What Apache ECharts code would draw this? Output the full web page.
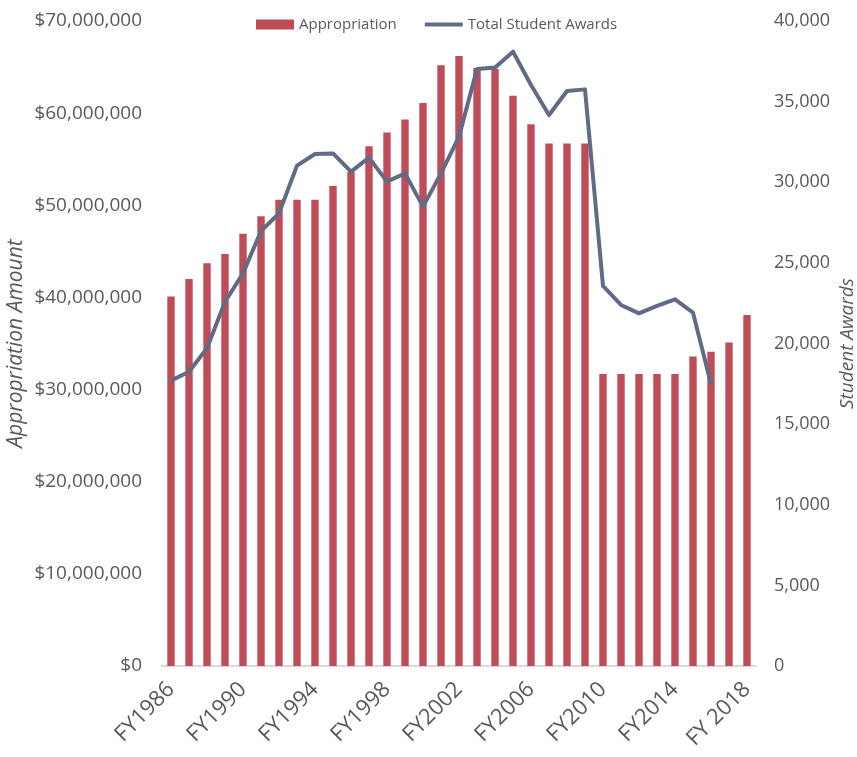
<!DOCTYPE html>
<html>
<head>
<meta charset="utf-8">
<script src="https://cdn.jsdelivr.net/npm/echarts@6/dist/echarts.min.js"></script>
<style>
  html, body { margin: 0; padding: 0; background: #fff; }
  #chart { width: 857px; height: 757px; }
</style>
</head>
<body>
<div id="chart"></div>
<script>
const years = [
  'FY1986', 'FY1987', 'FY1988', 'FY1989', 'FY1990', 'FY1991', 'FY1992', 'FY1993',
  'FY1994', 'FY1995', 'FY1996', 'FY1997', 'FY1998', 'FY1999', 'FY2000', 'FY2001',
  'FY2002', 'FY2003', 'FY2004', 'FY2005', 'FY2006', 'FY2007', 'FY2008', 'FY2009',
  'FY2010', 'FY2011', 'FY2012', 'FY2013', 'FY2014', 'FY2015', 'FY2016', 'FY2017',
  'FY 2018'
];
const appropriation = [
  40100000, 42000000, 43700000, 44700000, 46900000, 48800000, 50600000, 50600000,
  50600000, 52100000, 53600000, 56400000, 57900000, 59300000, 61100000, 65200000,
  66200000, 64900000, 64800000, 61900000, 58800000, 56700000, 56700000, 56700000,
  31700000, 31700000, 31700000, 31700000, 31700000, 33600000, 34100000, 35100000,
  38100000
];
const studentAwards = [
  17700, 18250, 19700, 22590, 24350, 26980, 28070, 31030,
  31750, 31790, 30660, 31530, 30040, 30550, 28490, 30550,
  32830, 37020, 37120, 38100, 36030, 34170, 35660, 35760,
  23570, 22390, 21870, 22330, 22740, 21910, 17490, null,
  null
];

const textColor = '#595959';
const barColor = '#be4d58';
const lineColor = '#616b86';
const fontFamily = '"Open Sans", sans-serif';

const chart = echarts.init(document.getElementById('chart'));
chart.setOption({
  animation: false,
  textStyle: { fontFamily: fontFamily, color: textColor },
  legend: {
    top: 12,
    left: 251,
    itemGap: 26,
    itemWidth: 38,
    itemHeight: 10,
    textStyle: { fontSize: 15, color: textColor, fontFamily: fontFamily },
    data: [
      { name: 'Appropriation', icon: 'rect' },
      {
        name: 'Total Student Awards',
        itemStyle: { opacity: 0 },
        lineStyle: { width: 4, color: lineColor }
      }
    ]
  },
  grid: {
    left: 162, right: 101, top: 21, bottom: 91,
    containLabel: false,
    outerBoundsMode: 'none'
  },
  xAxis: {
    type: 'category',
    data: years,
    axisLine: { lineStyle: { color: '#d9d9d9', width: 2 } },
    axisTick: { interval: 0, length: 7, lineStyle: { color: '#d9d9d9', width: 2 } },
    axisLabel: {
      interval: 3,
      rotate: 45,
      margin: 20,
      fontSize: 22,
      color: textColor,
      fontFamily: fontFamily
    }
  },
  yAxis: [
    {
      type: 'value',
      min: 0,
      max: 70000000,
      interval: 10000000,
      name: 'Appropriation Amount',
      nameLocation: 'middle',
      nameGap: 135,
      nameMoveOverlap: false,
      nameTextStyle: { fontSize: 21, fontStyle: 'italic', color: textColor, fontFamily: fontFamily },
      splitLine: { show: false },
      axisLine: { show: false },
      axisTick: { show: false },
      axisLabel: {
        margin: 20,
        fontSize: 19,
        color: textColor,
        formatter: v => '$' + v.toLocaleString('en-US')
      }
    },
    {
      type: 'value',
      min: 0,
      max: 40000,
      interval: 5000,
      name: 'Student Awards',
      nameLocation: 'middle',
      nameGap: 82,
      nameRotate: 90,
      nameMoveOverlap: false,
      nameTextStyle: { fontSize: 19, fontStyle: 'italic', color: textColor, fontFamily: fontFamily },
      splitLine: { show: false },
      axisLine: { show: false },
      axisTick: { show: false },
      axisLabel: {
        margin: 18,
        fontSize: 18,
        color: textColor,
        formatter: v => v.toLocaleString('en-US')
      }
    }
  ],
  series: [
    {
      name: 'Appropriation',
      type: 'bar',
      yAxisIndex: 0,
      barWidth: '41%',
      itemStyle: { color: barColor },
      data: appropriation
    },
    {
      name: 'Total Student Awards',
      type: 'line',
      yAxisIndex: 1,
      symbol: 'none',
      lineStyle: { color: lineColor, width: 4, join: 'round' },
      itemStyle: { color: lineColor },
      data: studentAwards
    }
  ]
});
</script>
</body>
</html>
